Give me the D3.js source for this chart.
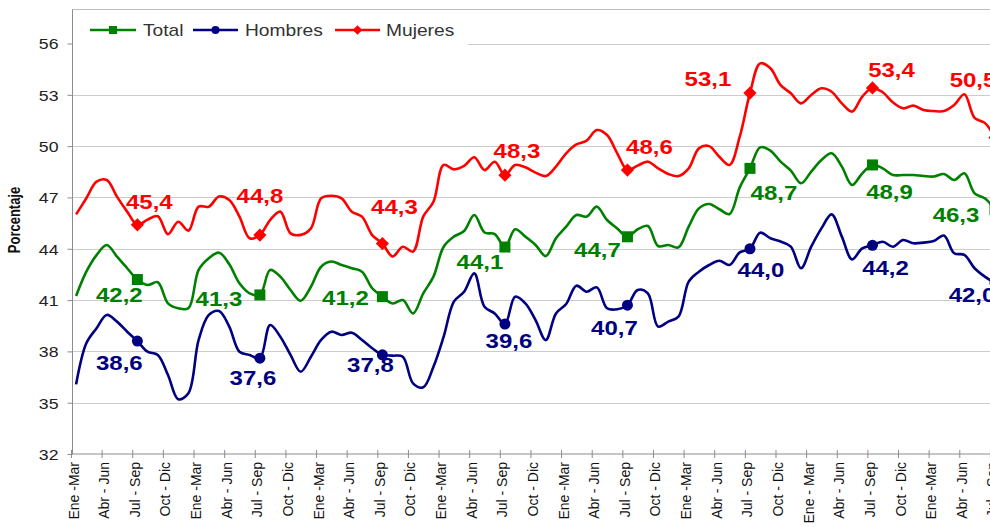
<!DOCTYPE html>
<html><head><meta charset="utf-8">
<script src="https://cdn.jsdelivr.net/npm/d3@7"></script>
<style>html,body{margin:0;padding:0;background:#fff;}svg{display:block;}</style>
</head><body>
<svg id="chart" width="990" height="527"></svg>
<script>
// ---------- DATA ----------
const tickLabels = [
  "Ene -Mar","Abr - Jun","Jul - Sep","Oct - Dic",
  "Ene -Mar","Abr - Jun","Jul - Sep","Oct - Dic",
  "Ene -Mar","Abr - Jun","Jul - Sep","Oct - Dic",
  "Ene -Mar","Abr - Jun","Jul - Sep","Oct - Dic",
  "Ene -Mar","Abr - Jun","Jul - Sep","Oct - Dic",
  "Ene -Mar","Abr - Jun","Jul - Sep","Oct - Dic",
  "Ene - Mar","Abr - Jun","Jul - Sep","Oct - Dic",
  "Ene -Mar","Abr - Jun","Jul - Sep"
];
const yTicks = [32, 35, 38, 41, 44, 47, 50, 53, 56];
const seriesNames = ["Total", "Hombres", "Mujeres"];

const total = [41.24,42.66,43.63,44.22,43.54,42.86,42.2,41.88,42.04,40.81,40.52,40.52,
  42.76,43.44,43.77,43.1,41.98,41.39,41.3,42.76,42.37,41.59,40.96,41.78,
  42.95,43.25,43.05,42.86,42.66,41.69,41.2,40.8,41.0,40.22,41.39,42.37,
  44.12,44.71,45.04,45.97,44.95,44.86,44.1,45.14,44.71,44.22,43.57,44.61,
  45.29,45.97,45.88,46.46,45.68,45.19,44.7,45.14,45.33,44.16,44.22,44.08,
  45.29,46.36,46.62,46.31,46.03,47.59,48.7,49.93,49.74,49.09,48.57,47.83,
  48.51,49.19,49.58,48.8,47.73,48.41,48.9,48.7,48.31,48.31,48.31,48.25,
  48.22,48.37,48.02,48.41,47.24,46.95,46.3];
const hombres = [36.07,38.47,39.35,40.13,39.74,39.15,38.6,37.98,37.79,36.62,35.2,35.55,
  38.67,40.13,40.36,39.45,37.98,37.79,37.6,39.54,38.86,37.79,36.81,37.69,
  38.67,39.15,38.96,39.09,38.67,38.18,37.8,37.75,37.69,36.13,35.9,37.1,
  38.86,40.91,41.49,42.56,40.61,40.22,39.6,41.2,40.81,39.83,38.66,40.22,
  40.77,41.84,41.49,41.74,40.52,40.46,40.7,41.59,41.39,39.45,39.74,40.03,
  42.08,42.66,43.05,43.3,43.05,43.79,44.0,44.94,44.61,44.42,44.12,42.86,
  44.12,45.19,46.01,44.71,43.38,44.02,44.2,44.41,44.12,44.51,44.32,44.36,
  44.45,44.77,43.74,43.64,42.86,42.37,42.0];
const mujeres = [46.01,46.95,47.92,48.02,47.05,46.17,45.4,45.7,45.9,44.85,45.58,45.06,
  46.46,46.46,47.05,46.85,45.88,44.61,44.8,45.68,46.17,44.9,44.81,45.19,
  46.95,47.1,46.95,46.17,45.88,44.8,44.3,43.55,44.12,43.83,45.88,46.75,
  48.9,48.64,48.84,49.35,48.6,49.09,48.3,48.9,48.76,48.45,48.25,48.8,
  49.58,50.1,50.32,50.94,50.65,49.58,48.6,48.86,49.09,48.7,48.37,48.25,
  48.7,49.87,50.0,49.38,48.9,50.55,53.1,54.84,54.55,53.57,53.09,52.5,
  52.99,53.38,53.18,52.5,52.02,52.9,53.4,53.15,52.56,52.21,52.37,52.11,
  52.05,52.05,52.4,53.03,51.65,51.36,50.5];
// indices of the labelled (Jul - Sep) points
const markerIdx = [6, 18, 30, 42, 54, 66, 78, 90];

// ---------- LAYOUT / STYLE (not data) ----------
const colors = {Total: "#008000", Hombres: "#000080", Mujeres: "#FF0000"};
const labelOffsets = {
  Total:   [[-18,16],[-41,4],[-37,2],[-25,15],[-30,13],[24,25],[17,27],[-39,6]],
  Hombres: [[-18,22],[-7,20],[-12,10],[4,17],[-13,23],[11,21],[13,23],[-23,12]],
  Mujeres: [[12,-23],[0,-39],[12,-36],[12,-24],[22,-23],[-42,-14],[19,-18],[-22,-57]]
};
const X0 = 71, STEP = 10.21;
const Y_TOP = 43.5, Y_BOT = 454;

const svg = d3.select("#chart");
const nPts = total.length;
const x = d3.scaleLinear().domain([-0.5, nPts - 0.5]).range([X0, X0 + nPts * STEP]);
const xTick = d3.scalePoint().domain(d3.range(tickLabels.length)).range([X0, X0 + (tickLabels.length - 1) * 3 * STEP]);
const y = d3.scaleLinear().domain([32, 56]).range([Y_BOT, Y_TOP]);

// plot top border
svg.append("line").attr("x1", 72).attr("x2", 990).attr("y1", 9.5).attr("y2", 9.5)
  .attr("stroke", "#bdbdbd").attr("stroke-width", 1);

// gridlines
svg.append("g").selectAll("line").data(yTicks.filter(t => t > 32)).join("line")
  .attr("x1", 72).attr("x2", 990)
  .attr("y1", d => Math.round(y(d)) + 0.5).attr("y2", d => Math.round(y(d)) + 0.5)
  .attr("stroke", "#cccccc").attr("stroke-width", 1.2);

// y axis
const yAxis = svg.append("g").attr("transform", "translate(72.5,0)")
  .call(d3.axisLeft(y).tickValues(yTicks).tickSize(5).tickSizeOuter(0).tickFormat(d3.format("d")));
yAxis.select(".domain").attr("stroke", "#8c8c8c").attr("d", `M0,9.5V${Y_BOT}`);
yAxis.selectAll(".tick line").attr("stroke", "#8c8c8c");
yAxis.selectAll(".tick text").attr("x", 0).attr("dy", null)
  .attr("dominant-baseline", "central")
  .attr("transform", "translate(-14,0) scale(1.18,1)")
  .attr("font-family", "Arial, 'Liberation Sans', sans-serif").attr("font-size", 15)
  .attr("fill", "#222").attr("text-anchor", "end");

// x axis
const xAxis = svg.append("g").attr("transform", `translate(0,${Y_BOT})`)
  .call(d3.axisBottom(xTick).tickSize(4).tickSizeOuter(0).tickFormat(i => tickLabels[i]));
xAxis.select(".domain").attr("stroke", "#8c8c8c").attr("d", `M72,0H990`);
xAxis.selectAll(".tick line").attr("stroke", "#8c8c8c").attr("y1", -4).attr("y2", 4);
xAxis.selectAll(".tick text")
  .attr("x", 0).attr("y", 0).attr("dy", null)
  .attr("transform", "translate(2,8) rotate(-90)")
  .attr("text-anchor", "end").attr("dominant-baseline", "central")
  .attr("font-family", "Arial, 'Liberation Sans', sans-serif").attr("font-size", 14)
  .attr("fill", "#111");

// y title
svg.append("text").text("Porcentaje")
  .attr("transform", "translate(15,220) scale(1.2,1) rotate(-90)")
  .attr("text-anchor", "middle").attr("dominant-baseline", "central")
  .attr("font-family", "Arial, 'Liberation Sans', sans-serif").attr("font-weight", "bold")
  .attr("font-size", 13).attr("fill", "#111");

// series
const seriesData = {Total: total, Hombres: hombres, Mujeres: mujeres};
const line = d3.line().x((d, i) => x(i)).y(d => y(d)).curve(d3.curveCatmullRom.alpha(0.5));
const plot = svg.append("g");
["Total", "Hombres", "Mujeres"].forEach(name => {
  plot.append("path").datum(seriesData[name])
    .attr("fill", "none").attr("stroke", colors[name]).attr("stroke-width", 2.6)
    .attr("stroke-linejoin", "round").attr("d", line);
});

function marker(g, name, cx, cy, s) {
  if (name === "Total") {
    g.append("rect").attr("x", cx - s / 2).attr("y", cy - s / 2).attr("width", s).attr("height", s)
      .attr("fill", colors[name]);
  } else if (name === "Hombres") {
    g.append("circle").attr("cx", cx).attr("cy", cy).attr("r", s / 2).attr("fill", colors[name]);
  } else {
    const h = s * 0.6;
    g.append("path").attr("d", `M${cx},${cy - h}L${cx + h},${cy}L${cx},${cy + h}L${cx - h},${cy}Z`)
      .attr("fill", colors[name]);
  }
}

const fmt = v => d3.format(".1f")(v).replace(".", ",");
["Total", "Hombres", "Mujeres"].forEach(name => {
  const vals = seriesData[name];
  markerIdx.forEach((k, j) => {
    const cx = x(k), cy = y(vals[k]);
    marker(plot, name, cx, cy, 11);
    const [dx, dy] = labelOffsets[name][j];
    plot.append("text").text(fmt(vals[k]))
      .attr("transform", `translate(${cx + dx},${cy + dy}) scale(1.2,1)`)
      .attr("text-anchor", "middle").attr("dominant-baseline", "central")
      .attr("font-family", "Arial, 'Liberation Sans', sans-serif").attr("font-weight", "bold")
      .attr("font-size", 20).attr("fill", colors[name]);
  });
});

// legend
const lg = svg.append("g");
lg.append("rect").attr("x", 73).attr("y", 10).attr("width", 395).attr("height", 38).attr("fill", "#fff");
const legendItems = [
  {name: "Total", x1: 90, x2: 136, tx: 143},
  {name: "Hombres", x1: 193, x2: 238, tx: 245},
  {name: "Mujeres", x1: 335, x2: 380, tx: 386}
];
legendItems.forEach(it => {
  lg.append("line").attr("x1", it.x1).attr("x2", it.x2).attr("y1", 30).attr("y2", 30)
    .attr("stroke", colors[it.name]).attr("stroke-width", 2.6);
  marker(lg, it.name, (it.x1 + it.x2) / 2, 30, 8);
  lg.append("text").text(it.name)
    .attr("transform", `translate(${it.tx},36) scale(1.2,1)`)
    .attr("font-family", "Arial, 'Liberation Sans', sans-serif").attr("font-size", 16)
    .attr("fill", "#333");
});
</script>
</body></html>
